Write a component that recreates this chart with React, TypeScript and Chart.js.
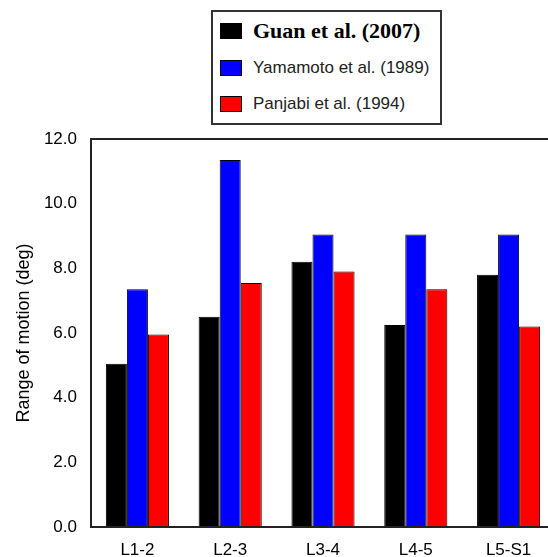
import React, { useEffect, useRef } from "react";
import { Chart, registerables } from "chart.js";

Chart.register(...registerables);

const categories = ["L1-2", "L2-3", "L3-4", "L4-5", "L5-S1"];
const guan = [5.05, 6.5, 8.2, 6.25, 7.8];
const yamamoto = [7.35, 11.35, 9.05, 9.05, 9.05];
const panjabi = [5.95, 7.55, 7.9, 7.35, 6.2];
const seriesNames = ["Guan et al. (2007)", "Yamamoto et al. (1989)", "Panjabi et al. (1994)"];
const seriesColors = ["#000000", "#0000ff", "#ff0000"];
const yTicks = [0, 2, 4, 6, 8, 10, 12];
const yTitle = "Range of motion (deg)";

const SANS = '"Liberation Sans", Arial, Helvetica, sans-serif';

const framePlugin = {
  id: "frame",
  afterDatasetsDraw(chart: any) {
    const { ctx, chartArea } = chart;
    ctx.save();
    ctx.strokeStyle = "#222";
    ctx.lineWidth = 2;
    ctx.strokeRect(chartArea.left, chartArea.top, chartArea.right - chartArea.left, chartArea.bottom - chartArea.top);
    ctx.restore();
  },
};

export default function App() {
  const ref = useRef<HTMLCanvasElement | null>(null);

  useEffect(() => {
    if (!ref.current) return;
    const values = [guan, yamamoto, panjabi];
    const chart = new Chart(ref.current, {
      type: "bar",
      data: {
        labels: categories,
        datasets: values.map((v, i) => ({
          label: seriesNames[i],
          data: v,
          backgroundColor: seriesColors[i],
          borderColor: "#000",
          borderWidth: 1,
          categoryPercentage: 0.68,
          barPercentage: 1.0,
        })),
      },
      options: {
        responsive: false,
        animation: false,
        devicePixelRatio: 1,
        layout: { padding: { top: 139, right: 5, left: 0, bottom: 0 } },
        plugins: {
          legend: { display: false },
          tooltip: { enabled: false },
        },
        scales: {
          x: {
            grid: { display: false, drawTicks: false },
            border: { display: false },
            ticks: {
              color: "#000",
              font: { family: SANS, size: 17 },
              padding: 13,
              maxRotation: 0,
            },
            afterFit(scale: any) {
              scale.height = 30;
            },
          },
          y: {
            min: 0,
            max: 12,
            grid: { display: false, drawTicks: false },
            border: { display: false },
            afterBuildTicks(scale: any) {
              scale.ticks = yTicks.map((v) => ({ value: v }));
            },
            ticks: {
              color: "#000",
              font: { family: SANS, size: 17 },
              padding: 14,
              callback: (v: any) => Number(v).toFixed(1),
            },
            title: {
              display: true,
              text: yTitle,
              color: "#000",
              font: { family: SANS, size: 18 },
              padding: { top: 13, bottom: 0 },
            },
            afterFit(scale: any) {
              scale.width = 91;
            },
          },
        },
      },
      plugins: [framePlugin],
    });
    return () => chart.destroy();
  }, []);

  const rowTops = [23, 60, 96];

  return (
    <div style={{ position: "fixed", left: 0, top: 0, width: 548, height: 557, overflow: "hidden", background: "#fff" }}>
      <canvas ref={ref} width={560} height={557} style={{ position: "absolute", left: 0, top: 0, width: 560, height: 557 }} />
      <div
        style={{
          position: "absolute",
          left: 211,
          top: 10,
          width: 227,
          height: 111,
          border: "2px solid #333",
          background: "#fff",
        }}
      >
        {seriesNames.map((name, i) => (
          <div
            key={name}
            style={{
              position: "absolute",
              left: 7,
              top: rowTops[i] - 12,
              height: 16,
              display: "flex",
              alignItems: "center",
              whiteSpace: "nowrap",
            }}
          >
            <span
              style={{
                display: "inline-block",
                width: 20,
                height: 14,
                background: seriesColors[i],
                border: "1px solid #000",
              }}
            />
            <span
              style={{
                marginLeft: 11,
                fontFamily: i === 0 ? '"Liberation Serif", "Times New Roman", serif' : SANS,
                fontWeight: i === 0 ? "bold" : "normal",
                fontSize: i === 0 ? 22 : 17,
                color: i === 0 ? "#000" : "#222",
                lineHeight: "16px",
              }}
            >
              {name}
            </span>
          </div>
        ))}
      </div>
    </div>
  );
}
